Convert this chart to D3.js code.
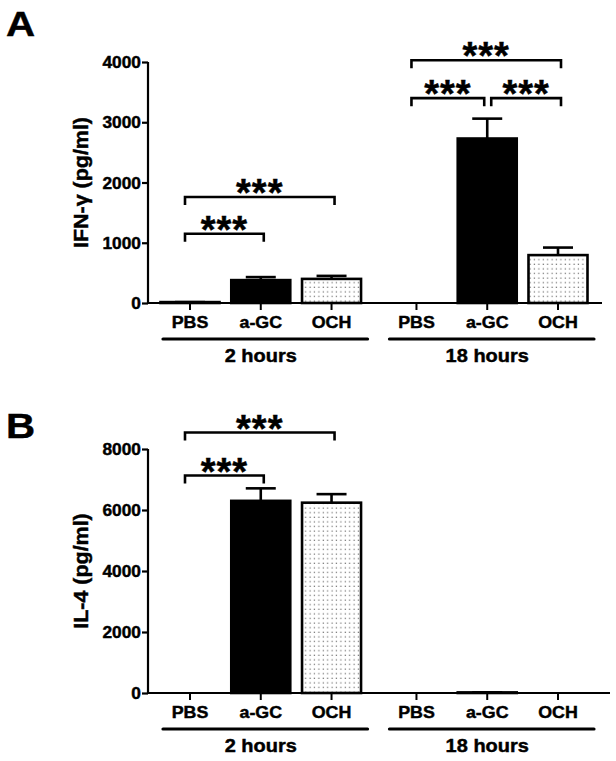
<!DOCTYPE html>
<html>
<head>
<meta charset="utf-8">
<script src="https://cdn.jsdelivr.net/npm/d3@7"></script>
<style>
body{margin:0;background:#fff;}
text{font-family:"Liberation Sans",Arial,sans-serif;font-weight:bold;fill:#000;stroke:#000;stroke-width:0.45px;}
</style>
</head>
<body>
<div class="canvas"></div>
<script>
// data
const groups=['2 hours','18 hours'];
const treatments=['PBS','a-GC','OCH'];
// IFN-gamma (pg/ml), mean and upper error
const ifnMean=[15,380,400, 0,2730,795];
const ifnErr=[0,50,50, 0,330,125];
// IL-4 (pg/ml)
const il4Mean=[0,6300,6240, 0,20,0];
const il4Err=[0,410,280, 0,0,0];
const ifnTicks=[0,1000,2000,3000,4000];
const il4Ticks=[0,2000,4000,6000,8000];
// significance brackets: [from bar, to bar, level value]
const ifnSig=[[0,1,1150],[0,2,1760],[3,4,3400],[4,5,3400],[3,5,4030]];
const il4Sig=[[0,1,7130],[0,2,8540]];

const W=616,H=761;
const svg=d3.select('.canvas').append('svg')
  .attr('width',W).attr('height',H);

// dotted fill for OCH bars
const pat=svg.append('defs').append('pattern')
  .attr('id','dots').attr('patternUnits','userSpaceOnUse')
  .attr('width',4.4).attr('height',4.6);
pat.append('rect').attr('width',4.4).attr('height',4.6).attr('fill','#fff');
pat.append('rect').attr('x',1.5).attr('y',1.5).attr('width',1.2).attr('height',1.2).attr('fill','#6e6e6e');

// slot index for each bar (small extra gap between groups)
const slots=[0,1,2,3.2,4.2,5.2];
const x=d3.scaleLinear().domain([0,5.2]).range([190,558]);
const barW=59;

// stretched bold text helper
function label(g,tx,ty,str,size,anchor,sx,rot){
  const t=g.append('text')
    .attr('transform',`translate(${tx},${ty})${rot?` rotate(${rot})`:''} scale(${sx},1)`)
    .attr('text-anchor',anchor)
    .style('font-size',size+'px')
    .text(str);
  return t;
}

function panel(cfg){
  const g=svg.append('g');
  const y=d3.scaleLinear().domain([0,cfg.max]).range([cfg.y0,cfg.y1]);

  // y axis
  const yAxis=g.append('g').attr('transform',`translate(148,0)`)
    .call(d3.axisLeft(y).tickValues(cfg.ticks).tickSize(6).tickFormat(''));
  yAxis.select('.domain').attr('stroke-width',2.2).attr('d',`M0,${cfg.y0}V${cfg.y1}`);
  yAxis.selectAll('.tick line').attr('stroke-width',2.2);
  cfg.ticks.forEach(t=>label(g,141,y(t)+6,t,17,'end',1.02));

  // bars
  const bars=g.selectAll('.bar').data(cfg.mean).enter();
  bars.append('rect')
    .attr('x',(d,i)=>x(slots[i])-barW/2)
    .attr('y',d=>y(d))
    .attr('width',barW)
    .attr('height',d=>Math.max(0,cfg.y0-y(d)))
    .attr('fill',(d,i)=>i%3==2?'url(#dots)':'#000')
    .attr('stroke',d=>d>0?'#000':'none')
    .attr('stroke-width',2.6);

  // error bars (upper only)
  cfg.mean.forEach((m,i)=>{
    if(m<=0) return;
    const cx=x(slots[i]);
    const top=y(m+cfg.err[i]);
    g.append('line').attr('x1',cx).attr('x2',cx).attr('y1',y(m)).attr('y2',top)
      .attr('stroke','#000').attr('stroke-width',2.6);
    g.append('line').attr('x1',cx-15).attr('x2',cx+15).attr('y1',top).attr('y2',top)
      .attr('stroke','#000').attr('stroke-width',2.6);
  });

  // x axis
  g.append('line').attr('x1',147).attr('x2',cfg.xEnd).attr('y1',cfg.y0).attr('y2',cfg.y0)
    .attr('stroke','#000').attr('stroke-width',2.2);
  slots.forEach((s,i)=>{
    g.append('line').attr('x1',x(s)).attr('x2',x(s)).attr('y1',cfg.y0).attr('y2',cfg.y0+7)
      .attr('stroke','#000').attr('stroke-width',2);
    label(g,x(s),cfg.y0+25,treatments[i%3],16.5,'middle',1.08);
  });

  // group underlines and labels
  groups.forEach((gr,k)=>{
    const a=x(slots[k*3])-27, b=x(slots[k*3+2])+36;
    g.append('line').attr('x1',a).attr('x2',b).attr('y1',cfg.y0+36).attr('y2',cfg.y0+36)
      .attr('stroke','#000').attr('stroke-width',3.2).attr('stroke-linecap','round');
    label(g,(x(slots[k*3])+x(slots[k*3+2]))/2,cfg.y0+59,gr,18.5,'middle',1.08);
  });

  // significance brackets
  cfg.sig.forEach(([a,b,v])=>{
    const x1=x(slots[a])-5+(a==4?9:0), x2=x(slots[b])+3-(b==4?6:0), ly=y(v);
    g.append('path').attr('d',`M${x1},${ly+8}V${ly}H${x2}V${ly+8}`)
      .attr('fill','none').attr('stroke','#000').attr('stroke-width',2.6);
    g.append('text').attr('x',(x1+x2)/2).attr('y',ly+9)
      .attr('text-anchor','middle').style('font-size','38px').style('letter-spacing','1px')
      .text('***');
  });

  // y title and panel letter
  label(g,88,(cfg.y0+cfg.y1)/2,cfg.title,19.5,'middle',1.1,-90);
  label(g,6,cfg.letterY,cfg.letter,36,'start',1.12);
}

panel({mean:ifnMean,err:ifnErr,max:4000,ticks:ifnTicks,y0:303,y1:62,xEnd:602,
  sig:ifnSig,title:'IFN-γ (pg/ml)',letter:'A',letterY:36});
panel({mean:il4Mean,err:il4Err,max:8000,ticks:il4Ticks,y0:693,y1:449,xEnd:610,
  sig:il4Sig,title:'IL-4 (pg/ml)',letter:'B',letterY:438});
</script>
</body>
</html>
